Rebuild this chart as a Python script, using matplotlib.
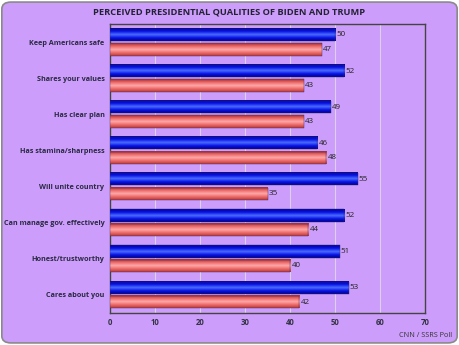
import numpy as np
import matplotlib.pyplot as plt
from matplotlib.patches import FancyBboxPatch
from matplotlib.colors import LinearSegmentedColormap

plt.rcParams['font.family'] = ['Open Sans', 'DejaVu Sans']

categories = ["Keep Americans safe", "Shares your values", "Has clear plan",
              "Has stamina/sharpness", "Will unite country",
              "Can manage gov. effectively", "Honest/trustworthy", "Cares about you"]
biden = [50, 52, 49, 46, 55, 52, 51, 53]
trump = [47, 43, 43, 48, 35, 44, 40, 42]
xticks = [0, 10, 20, 30, 40, 50, 60, 70]

bg = '#cc9dfa'
blue_cmap = LinearSegmentedColormap.from_list('b', ['#00008c', '#0a14e6', '#4a6cff', '#0a14e6', '#000096'])
red_cmap = LinearSegmentedColormap.from_list('r', ['#b83a3a', '#ee6a6a', '#ffa8a8', '#ee6a6a', '#a83030'])
grad = np.linspace(0, 1, 50).reshape(-1, 1)

fig = plt.figure(figsize=(4.59, 3.45), dpi=100)
fig.patch.set_facecolor('white')
frame = FancyBboxPatch((0.004, 0.006), 0.992, 0.988, boxstyle='round,pad=0,rounding_size=0.02',
                       transform=fig.transFigure, facecolor=bg, edgecolor='#8a8a8a', lw=1.2,
                       zorder=-10)
fig.patches.append(frame)

ax = fig.add_axes([0.2397, 0.093, 0.6863, 0.837])
ax.set_facecolor(bg)

n = len(categories)
h = 0.34
for i in range(n):
    y0 = n - 1 - i
    yb = y0 + 0.03
    yr = y0 - 0.03 - h
    for val, yy, cmap in [(biden[i], yb, blue_cmap), (trump[i], yr, red_cmap)]:
        ax.imshow(grad, cmap=cmap, aspect='auto', extent=[0, val, yy, yy + h],
                  origin='lower', zorder=3)
        ax.add_patch(plt.Rectangle((0, yy), val, h, fill=False, ec='#333366', lw=0.3, zorder=4))
        ax.text(val + 0.3, yy + h / 2, str(val), va='center', ha='left', fontsize=5.8,
                color='#222222', zorder=5)

ax.set_xlim(0, 70)
ax.set_ylim(-0.5, n - 0.5)
ax.set_xticks(xticks)
ax.set_xticklabels([str(t) for t in xticks], fontsize=5.6, fontweight='bold', color='#333344')
ax.set_yticks(range(n))
ax.set_yticklabels(categories[::-1], fontsize=5.2, fontweight='bold', color='#2a2a44')
ax.tick_params(length=0, pad=4)
ax.grid(axis='x', color='#ddd0f2', lw=0.8, zorder=0)
ax.set_axisbelow(True)
for s in ax.spines.values():
    s.set_color('#444444')
    s.set_linewidth(1.0)

fig.text(0.5, 0.966, 'PERCEIVED PRESIDENTIAL QUALITIES OF BIDEN AND TRUMP',
         ha='center', va='center', fontsize=6.7, color='#222233', fontweight='bold')
fig.text(0.985, 0.018, 'CNN / SSRS Poll', ha='right', va='bottom', fontsize=5.2, color='#333333')

fig.savefig('out.png', dpi=100, facecolor=fig.get_facecolor())
